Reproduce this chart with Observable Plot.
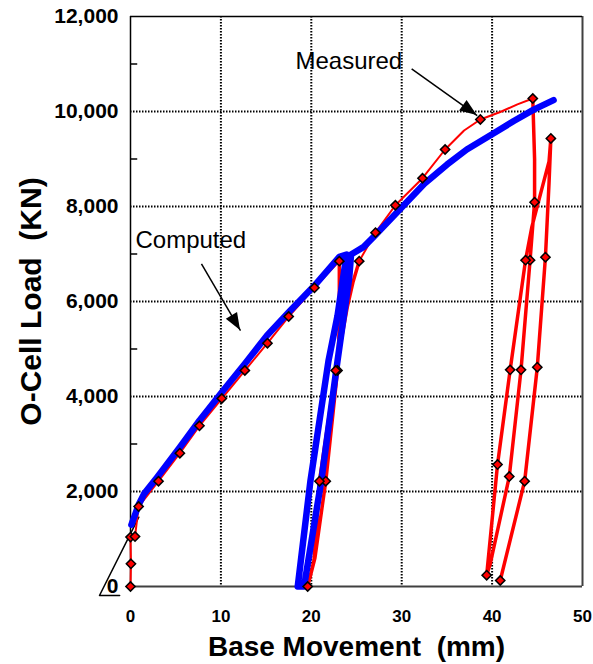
<!DOCTYPE html>
<html><head><meta charset="utf-8">
<script src="https://cdn.jsdelivr.net/npm/d3@7"></script>
<script src="https://cdn.jsdelivr.net/npm/@observablehq/plot@0.6"></script>
<style>body{margin:0;background:#fff} #chart{width:593px;height:664px}</style>
</head><body><div id="chart"></div>
<script>
// ---- tick values ----
const xTicks = [0, 10, 20, 30, 40, 50];
const yTicks = [0, 2000, 4000, 6000, 8000, 10000, 12000];
const xGrid = [10, 20, 30, 40];
const yGrid = [2000, 4000, 6000, 8000, 10000];
const yMinor = [1000, 3000, 5000, 7000, 9000, 11000];

// ---- Measured (red) : x = base movement (mm), y = load (kN) ----
// seg 0: virgin loading, 1: first unload/reload loop, 2: continued loading, 3: second loops
const measuredX = [0, 0.05, 0, 0.5, 0.9, 3.1, 5.46, 7.63, 10.1, 12.65, 15.15, 17.5, 20.35, 23.1,
  23.1, 23.1, 22.9, 21.6, 20.4, 19.6, 20.3, 20.9, 22.7, 24.0, 24.6, 25.3,
  25.3, 27.1, 29.3, 32.3, 34.8, 36.9, 38.7, 40.9, 42.8, 44.5,
  44.5, 44.7, 44.7, 44.2, 43.2, 41.9, 39.8, 39.4, 40.6, 42.0, 43.7, 44.4, 46.3, 46.5, 46.3, 45.9, 45.0, 43.6, 40.9];
const measuredY = [0, 478, 1040, 1052, 1684, 2217, 2806, 3383, 3958, 4547, 5122, 5684, 6288, 6850,
  6850, 5500, 4547, 2217, 600, 0, 550, 2217, 4547, 5900, 6400, 6850,
  6850, 7450, 8026, 8595, 9200, 9600, 9832, 9990, 10150, 10274,
  10274, 9000, 8090, 6870, 4561, 2315, 480, 238, 2568, 4561, 6870, 7570, 8950, 9432, 8500, 6933, 4617, 2217, 126];
const measuredSeg = [0, 0, 0, 0, 0, 0, 0, 0, 0, 0, 0, 0, 0, 0,
  1, 1, 1, 1, 1, 1, 1, 1, 1, 1, 1, 1,
  2, 2, 2, 2, 2, 2, 2, 2, 2, 2,
  3, 3, 3, 3, 3, 3, 3, 3, 3, 3, 3, 3, 3, 3, 3, 3, 3, 3, 3];
const measuredMark = [1, 1, 1, 1, 1, 1, 1, 1, 1, 1, 1, 1, 1, 1,
  0, 0, 1, 1, 0, 1, 0, 1, 1, 0, 0, 1,
  0, 1, 1, 1, 1, 0, 1, 0, 0, 1,
  0, 0, 1, 1, 1, 1, 0, 1, 1, 1, 1, 0, 0, 1, 0, 1, 1, 1, 1];

// ---- Computed (blue) ----
const computedX = [0.1, 0.9, 1.5, 2.95, 5.46, 7.63, 10.1, 12.65, 15.1, 17.5, 20.35, 23.1, 23.9,
  22.9, 21.9, 19.9, 18.5,
  19.2, 21.1, 22.9, 24.2, 24.4, 25.0, 25.8, 27.1, 30.1, 32.5, 35.0, 37.2, 40.0, 42.4, 44.6, 46.8];
const computedY = [1300, 1720, 1950, 2300, 2930, 3495, 4090, 4688, 5284, 5775, 6336, 6940, 6990,
  5700, 4750, 2217, 0,
  0, 2217, 4750, 6500, 6990, 7060, 7150, 7400, 8000, 8480, 8880, 9200, 9520, 9800, 10040, 10240];

// ---- reference construction line at origin ----
const refLineX = [-1.2, -3.43, 0.92];
const refLineY = [-190, -190, 1459];

// ---- annotations ----
const noteLabels = ["Measured", "Computed"];
const noteTextX = [18.25, 0.55];
const noteTextY = [11058, 7296];
const noteFromX = [31.1, 7.85];
const noteFromY = [10898, 6793];
const noteToX = [38.35, 12.17];
const noteToY = [9915, 5389];

const xTitle = "Base Movement\u00a0 (mm)";
const yTitle = "O-Cell Load\u00a0 (KN)";

const measured = measuredX.map((x, i) => ({x, y: measuredY[i], seg: measuredSeg[i], mark: measuredMark[i]}));
const computed = computedX.map((x, i) => ({x, y: computedY[i]}));
const refLine = refLineX.map((x, i) => ({x, y: refLineY[i]}));
const notes = noteLabels.map((label, i) => ({label, tx: noteTextX[i], ty: noteTextY[i],
  x1: noteFromX[i], y1: noteFromY[i], x2: noteToX[i], y2: noteToY[i]}));

const diamond = {
  draw(ctx, size) {
    const r = Math.sqrt(size / 2);
    ctx.moveTo(0, -r); ctx.lineTo(r, 0); ctx.lineTo(0, r); ctx.lineTo(-r, 0); ctx.closePath();
  }
};

const font = "'Liberation Sans', Arial, Helvetica, sans-serif";
const dotted = {stroke: "black", strokeWidth: 2, strokeDasharray: "1.5,1.5"};

const plot = Plot.plot({
  width: 593, height: 664,
  marginLeft: 130, marginRight: 11, marginTop: 16, marginBottom: 78,
  style: {fontFamily: font, background: "white", color: "black", overflow: "visible"},
  x: {domain: [0, 50], label: null},
  y: {domain: [0, 12000], label: null},
  marks: [
    Plot.ruleX(xGrid, dotted),
    Plot.ruleY(yGrid, dotted),
    Plot.ruleY(yMinor, {x1: 0, x2: 0.8, stroke: "black", strokeWidth: 1.5}),
    Plot.ruleY([0], {stroke: "#404040", strokeWidth: 2}),
    Plot.ruleX([50], {stroke: "#404040", strokeWidth: 2}),
    Plot.ruleY([12000], {stroke: "black", strokeWidth: 1.5}),
    Plot.ruleX([0], {stroke: "black", strokeWidth: 1.5}),
    Plot.axisX({ticks: xTicks, tickSize: 0, tickPadding: 23, fontSize: 17, fontWeight: "bold", label: null}),
    Plot.axisY({ticks: yTicks, tickSize: 0, tickPadding: 12, fontSize: 21, fontWeight: "bold", label: null, tickFormat: d3.format(",")}),
    Plot.line(refLine, {x: "x", y: "y", stroke: "black", strokeWidth: 1.5}),
    Plot.line(measured.filter(d => d.seg === 0 || d.seg === 2), {x: "x", y: "y", z: "seg", stroke: "#ff0000", strokeWidth: 2}),
    Plot.line(measured.filter(d => d.seg === 1 || d.seg === 3), {x: "x", y: "y", z: "seg", stroke: "#ff0000", strokeWidth: 3.5}),
    Plot.line(computed, {x: "x", y: "y", stroke: "#0000ff", strokeWidth: 6.5}),
    Plot.dot(measured.filter(d => d.mark), {x: "x", y: "y", symbol: diamond, r: 3.7, fill: "#ff0000", stroke: "black", strokeWidth: 1.5}),
    Plot.link(notes, {x1: "x1", y1: "y1", x2: "x2", y2: "y2", stroke: "black", strokeWidth: 1.5}),
    Plot.text(notes, {x: "tx", y: "ty", text: "label", textAnchor: "start", fontSize: 24, fill: "black"}),
    Plot.text([xTitle], {x: 25, y: -1270, text: d => d, fontSize: 28, fontWeight: "bold", fill: "black"}),
    Plot.text([yTitle], {x: -11, y: 6000, text: d => d, rotate: -90, fontSize: 30, fontWeight: "bold", fill: "black"})
  ]
});

// filled arrowheads, positioned through the plot's own scales
const sx = plot.scale("x"), sy = plot.scale("y");
const svg = d3.select(plot.tagName === "svg" ? plot : plot.querySelector("svg"));
notes.forEach(n => {
  const ax = sx.apply(n.x1), ay = sy.apply(n.y1), bx = sx.apply(n.x2), by = sy.apply(n.y2);
  const a = Math.atan2(by - ay, bx - ax), L = 17, W = 6.5;
  const bxs = bx - L * Math.cos(a), bys = by - L * Math.sin(a);
  const p = [[bx, by], [bxs - W * Math.sin(a), bys + W * Math.cos(a)], [bxs + W * Math.sin(a), bys - W * Math.cos(a)]];
  svg.append("path").attr("d", "M" + p.map(q => q.join(",")).join("L") + "Z").attr("fill", "black");
});

document.getElementById("chart").appendChild(plot);
</script>
</body></html>
